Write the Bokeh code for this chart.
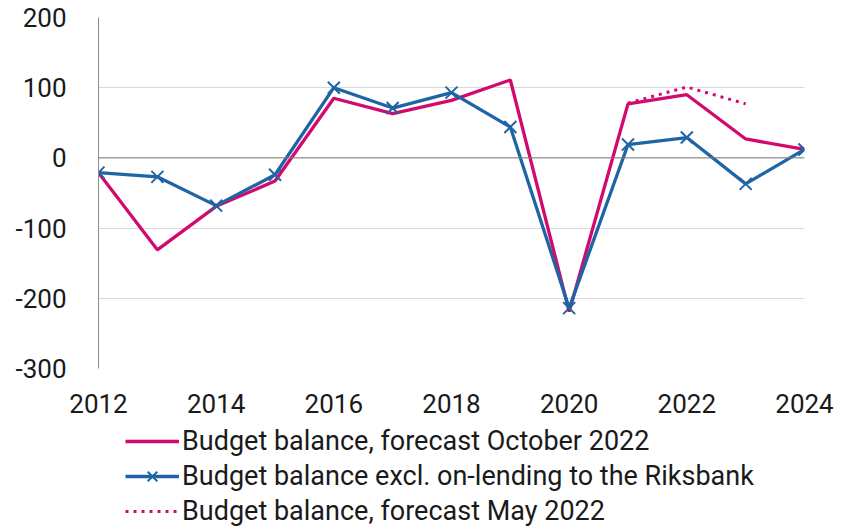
from bokeh.plotting import figure
from bokeh.models import Range1d, Legend, LegendItem, FixedTicker, Span
from bokeh.layouts import column
from bokeh.embed import file_html
from bokeh.resources import INLINE

years = [2012, 2013, 2014, 2015, 2016, 2017, 2018, 2019, 2020, 2021, 2022, 2023, 2024]
oct_2022 = [-21, -131, -69, -33, 85, 63, 82, 111, -219, 77, 90, 27, 12]
excl_riksbank = [-21, -27, -68, -24, 100, 71, 93, 44, -214, 19, 29, -37, 12]
may_years = [2021, 2022, 2023]
may_2022 = [78, 101, 77]

x_ticks = [2012, 2014, 2016, 2018, 2020, 2022, 2024]
y_ticks = [-300, -200, -100, 0, 100, 200]

labels = ["Budget balance, forecast October 2022",
          "Budget balance excl. on-lending to the Riksbank",
          "Budget balance, forecast May 2022"]

PINK = "#D20A6E"
BLUE = "#1F65A5"
TEXT = "#1a1a1a"

p = figure(width=850, height=426, output_backend="svg", toolbar_location=None,
           x_range=Range1d(2012, 2024), y_range=Range1d(-300, 200),
           min_border_left=98, min_border_right=46, min_border_top=17, min_border_bottom=58)
p.outline_line_color = None
p.background_fill_color = "white"

p.xaxis.ticker = FixedTicker(ticks=x_ticks)
p.yaxis.ticker = FixedTicker(ticks=y_ticks)
p.yaxis.major_label_overrides = {v: str(v) for v in y_ticks}
for ax in (p.xaxis[0], p.yaxis[0]):
    ax.major_tick_line_color = None
    ax.minor_tick_line_color = None
    ax.major_label_text_font = "Roboto"
    ax.major_label_text_font_size = "26px"
    ax.major_label_text_color = TEXT
p.xaxis.axis_line_color = None
p.yaxis.axis_line_color = "#8c8c8c"
p.xaxis.major_label_standoff = 19
p.yaxis.major_label_standoff = 26

p.xgrid.grid_line_color = None
p.ygrid.grid_line_color = "#d9d9d9"
p.ygrid.grid_line_width = 1

zero = Span(location=0, dimension="width", line_color="#7f7f7f", line_width=1)
p.add_layout(zero)

def draw(fig):
    a = fig.line(years, oct_2022, line_color=PINK, line_width=3.3)
    b = fig.line(years, excl_riksbank, line_color=BLUE, line_width=3.3)
    bm = fig.scatter(years, excl_riksbank, marker="x", size=17, line_color=BLUE, line_width=2)
    c = fig.line(may_years, may_2022, line_color=PINK, line_width=3, line_dash="3 5")
    return a, b, bm, c

draw(p)

# legend panel (second figure, same series, drawn outside its visible range)
q = figure(width=850, height=101, output_backend="svg", toolbar_location=None,
           x_range=Range1d(0, 1), y_range=Range1d(0, 1),
           x_axis_location=None, y_axis_location=None, min_border=0)
q.outline_line_color = None
q.xgrid.grid_line_color = None
q.ygrid.grid_line_color = None
la, lb, lbm, lc = draw(q)

legend = Legend(items=[
    LegendItem(label=labels[0], renderers=[la]),
    LegendItem(label=labels[1], renderers=[lb, lbm]),
    LegendItem(label=labels[2], renderers=[lc]),
], location=(27, -1), orientation="vertical")
legend.border_line_color = None
legend.background_fill_alpha = 0
legend.label_text_font = "Roboto"
legend.label_text_font_size = "27px"
legend.label_text_color = TEXT
legend.glyph_width = 54
legend.glyph_height = 34
legend.label_height = 31
legend.label_standoff = 3
legend.spacing = 1
legend.padding = 0
legend.margin = 0
legend.label_text_baseline = "middle"
q.add_layout(legend)

layout = column(p, q, spacing=0)
open("out.html", "w").write(file_html(layout, INLINE))
